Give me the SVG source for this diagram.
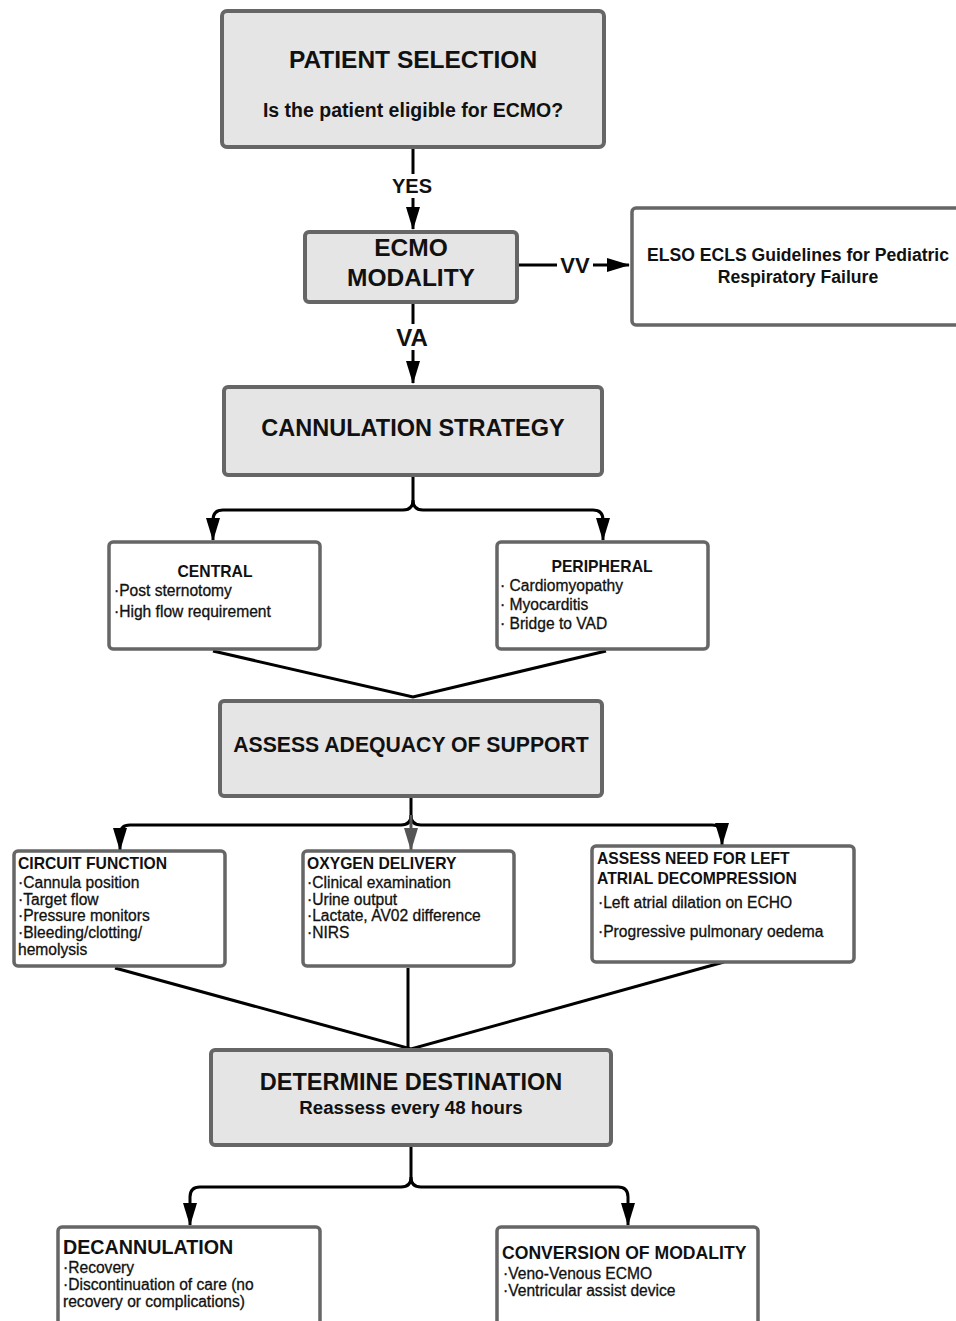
<svg xmlns="http://www.w3.org/2000/svg" width="956" height="1321" viewBox="0 0 956 1321">
<defs>
<style>
.box{fill:#ffffff;stroke:#666666;stroke-width:3.5}
.gbox{fill:#e5e5e5;stroke:#666666;stroke-width:4}
.c{fill:none;stroke:#000;stroke-width:3}
.t{font-family:"Liberation Sans",Arial,sans-serif;font-weight:bold;fill:#111}
.b{font-family:"Liberation Sans",Arial,sans-serif;fill:#111;font-size:15.6px;stroke:#111;stroke-width:0.3}
.m{text-anchor:middle}
</style>
<marker id="ah" markerUnits="userSpaceOnUse" markerWidth="24" markerHeight="16" refX="22" refY="7" orient="auto">
<path d="M0,0 L23,7 L0,14 Z" fill="#000"/>
</marker>
<marker id="ahg" markerUnits="userSpaceOnUse" markerWidth="24" markerHeight="16" refX="22" refY="7" orient="auto">
<path d="M0,0 L23,7 L0,14 Z" fill="#555"/>
</marker>
</defs>
<rect width="956" height="1321" fill="#fff"/>

<g id="connectors">
<path class="c" d="M413,149 V229" marker-end="url(#ah)"/>
<rect x="388" y="174" width="50" height="24" fill="#fff"/>
<text class="t m" x="412" y="193" font-size="20" fill="#444">YES</text>
<path class="c" d="M519,265 H629" marker-end="url(#ah)"/>
<rect x="557" y="252" width="36" height="24" fill="#fff"/>
<text class="t m" x="575" y="273" font-size="22" fill="#333">VV</text>
<path class="c" d="M413,304 V383" marker-end="url(#ah)"/>
<rect x="390" y="324" width="46" height="26" fill="#fff"/>
<text class="t m" x="412" y="346" font-size="24" fill="#444">VA</text>
<path class="c" d="M413,477 V500 Q413,510 403,510 H223 Q213,510 213,520 V540" marker-end="url(#ah)"/>
<path class="c" d="M413,500 Q413,510 423,510 H593 Q603,510 603,520 V540" marker-end="url(#ah)"/>
<path class="c" d="M213,651 L413,697 L606,651"/>
<path class="c" d="M411,798 V815 Q411,825 401,825 H130 Q120,825 120,835 V850" marker-end="url(#ah)"/>
<path class="c" d="M411,815 Q411,825 421,825 H712 Q722,825 722,835 V845" marker-end="url(#ah)"/>
<path d="M411,815 V850" fill="none" stroke="#555" stroke-width="3" marker-end="url(#ahg)"/>
<path class="c" d="M115,968 L411,1049 L724,962"/>
<path class="c" d="M408,968 V1049"/>
<path class="c" d="M411,1147 V1177 Q411,1187 401,1187 H200 Q190,1187 190,1197 V1225" marker-end="url(#ah)"/>
<path class="c" d="M411,1177 Q411,1187 421,1187 H618 Q628,1187 628,1197 V1225" marker-end="url(#ah)"/>
</g>

<g id="patient-selection">
<rect class="gbox" x="222" y="11" width="382" height="136" rx="5"/>
<text class="t m" x="413" y="68" font-size="24.5">PATIENT SELECTION</text>
<text class="t m" x="413" y="117" font-size="19.5">Is the patient eligible for ECMO?</text>
</g>

<g id="ecmo-modality">
<rect class="gbox" x="305" y="232" width="212" height="70" rx="4"/>
<text class="t m" x="411" y="256" font-size="24.5" fill="#333">ECMO</text>
<text class="t m" x="411" y="286" font-size="24.5">MODALITY</text>
</g>

<g id="elso">
<rect class="box" x="632" y="208" width="330" height="117" rx="4"/>
<text class="t m" x="798" y="261" font-size="17.6">ELSO ECLS Guidelines for Pediatric</text>
<text class="t m" x="798" y="283" font-size="17.6">Respiratory Failure</text>
</g>

<g id="cannulation-strategy">
<rect class="gbox" x="224" y="387" width="378" height="88" rx="4"/>
<text class="t m" x="413" y="436" font-size="23.5">CANNULATION STRATEGY</text>
</g>

<g id="central">
<rect class="box" x="109" y="542" width="211" height="107" rx="4"/>
<text class="t m" x="215" y="577" font-size="15.7">CENTRAL</text>
<text class="b" x="114" y="596">·Post sternotomy</text>
<text class="b" x="114" y="617">·High flow requirement</text>
</g>

<g id="peripheral">
<rect class="box" x="497" y="542" width="211" height="107" rx="4"/>
<text class="t m" x="602" y="572" font-size="15.7">PERIPHERAL</text>
<text class="b" x="500" y="591">· Cardiomyopathy</text>
<text class="b" x="500" y="610">· Myocarditis</text>
<text class="b" x="500" y="629">· Bridge to VAD</text>
</g>

<g id="assess-adequacy">
<rect class="gbox" x="220" y="701" width="382" height="95" rx="4"/>
<text class="t m" x="411" y="752" font-size="21.2">ASSESS ADEQUACY OF SUPPORT</text>
</g>

<g id="circuit-function">
<rect class="box" x="14" y="851" width="211" height="115" rx="4"/>
<text class="t" x="18" y="869" font-size="15.7">CIRCUIT FUNCTION</text>
<text class="b" x="18" y="888">·Cannula position</text>
<text class="b" x="18" y="905">·Target flow</text>
<text class="b" x="18" y="921">·Pressure monitors</text>
<text class="b" x="18" y="938">·Bleeding/clotting/</text>
<text class="b" x="18" y="955">hemolysis</text>
</g>

<g id="oxygen-delivery">
<rect class="box" x="303" y="851" width="211" height="115" rx="4"/>
<text class="t" x="307" y="869" font-size="15.7">OXYGEN DELIVERY</text>
<text class="b" x="307" y="888">·Clinical examination</text>
<text class="b" x="307" y="905">·Urine output</text>
<text class="b" x="307" y="921">·Lactate, AV02 difference</text>
<text class="b" x="307" y="938">·NIRS</text>
</g>

<g id="left-atrial">
<rect class="box" x="592" y="846" width="262" height="116" rx="4"/>
<text class="t" x="597" y="864" font-size="15.7">ASSESS NEED FOR LEFT</text>
<text class="t" x="597" y="884" font-size="15.7">ATRIAL DECOMPRESSION</text>
<text class="b" x="598" y="908">·Left atrial dilation on ECHO</text>
<text class="b" x="598" y="937">·Progressive pulmonary oedema</text>
</g>

<g id="determine-destination">
<rect class="gbox" x="211" y="1050" width="400" height="95" rx="4"/>
<text class="t m" x="411" y="1090" font-size="23.5">DETERMINE DESTINATION</text>
<text class="t m" x="411" y="1114" font-size="18.7">Reassess every 48 hours</text>
</g>

<g id="decannulation">
<rect class="box" x="58" y="1227" width="262" height="100" rx="4"/>
<text class="t" x="63" y="1254" font-size="19.7">DECANNULATION</text>
<text class="b" x="63" y="1273">·Recovery</text>
<text class="b" x="63" y="1290">·Discontinuation of care (no</text>
<text class="b" x="63" y="1307">recovery or complications)</text>
</g>

<g id="conversion">
<rect class="box" x="497" y="1227" width="261" height="100" rx="4"/>
<text class="t" x="502" y="1259" font-size="17.6">CONVERSION OF MODALITY</text>
<text class="b" x="503" y="1279">·Veno-Venous ECMO</text>
<text class="b" x="503" y="1296">·Ventricular assist device</text>
</g>
</svg>
